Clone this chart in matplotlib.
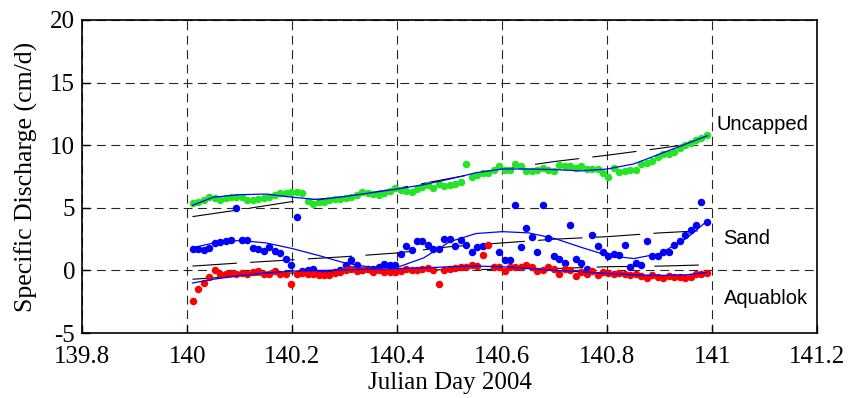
import numpy as np
import matplotlib
matplotlib.use('Agg')
import matplotlib.pyplot as plt

plt.rcParams['axes.unicode_minus'] = False

# 15-minute samples, day 140
day = 140 + np.arange(1, 96) / 96.0

uncapped = [5.35, 5.5, 5.65, 5.9, 5.75, 5.6, 5.8, 5.85, 5.9, 5.9,
            5.6, 5.6, 5.7, 5.75, 5.85, 6.05, 6.15, 6.2, 6.3, 6.25,
            6.15, 5.55, 5.3, 5.5, 5.45, 5.6, 5.7, 5.7, 5.75, 5.85,
            6.0, 6.3, 6.15, 6.1, 6.0, 6.2, 6.35, 6.6, 6.45, 6.35,
            6.3, 6.5, 6.65, 6.8, 6.55, 6.9, 6.75, 6.8, 6.9, 7.1,
            8.5, 7.45, 7.6, 7.8, 7.75, 8.0, 8.35, 8.0, 8.0, 8.5,
            8.3, 7.95, 7.95, 8.05, 8.15, 8.05, 7.95, 8.4, 8.3, 8.3,
            8.2, 8.3, 8.1, 8.1, 8.1, 7.75, 7.5, 8.15, 7.85, 7.95,
            8.05, 8.05, 8.5, 8.6, 8.7, 9.05, 9.3, 9.3, 9.45, 9.8,
            10.05, 10.2, 10.45, 10.6, 10.8]

sand = [1.7, 1.75, 1.65, 1.8, 2.2, 2.25, 2.35, 2.4, 5.0, 2.4,
        2.4, 1.8, 1.7, 1.55, 1.9, 1.55, 1.4, 0.95, 0.45, 4.25,
        -0.05, 0.0, 0.1, -0.3, -0.25, -0.25, -0.1, 0.05, 0.4, 0.8,
        0.4, 0.0, 0.15, 0.15, 0.3, 0.55, 0.4, 0.4, 1.3, 1.95,
        1.6, 2.35, 2.35, 2.0, 1.7, 1.7, 2.55, 2.55, 1.95, 2.4,
        2.0, 1.45, 1.85, 1.95, np.nan, np.nan, 1.45, 0.85, 0.85, 5.25,
        1.9, 3.4, 2.7, 1.45, 5.25, 2.6, 1.15, 0.95, 0.6, 3.6,
        0.95, 0.6, 0.1, 2.85, 1.95, 1.5, 1.15, 1.3, 1.25, 2.05,
        0.25, 0.6, 0.4, 2.35, 1.15, 1.15, 1.5, 1.5, 2.05, 2.35,
        2.85, 3.2, 3.65, 5.45, 3.85]

aquablok = [-2.4, -1.45, -1.0, -0.55, 0.05, -0.3, -0.3, -0.2, -0.25, -0.2,
            -0.3, -0.15, -0.05, -0.3, -0.3, -0.05, -0.3, -0.25, -1.1, -0.25,
            -0.2, -0.3, -0.3, -0.4, -0.35, -0.4, -0.2, -0.1, 0.05, 0.1,
            -0.05, 0.0, 0.1, -0.1, 0.05, -0.1, -0.15, -0.1, -0.05, 0.1,
            0.05, 0.0, 0.15, 0.2, 0.0, -1.1, 0.0, 0.15, 0.2, 0.3,
            0.3, 0.4, 0.35, 1.25, 2.0, 0.3, 0.25, -0.05, 0.3, 0.3,
            0.25, 0.4, 0.25, -0.05, 0.0, 0.25, 0.1, -0.3, 0.1, 0.0,
            -0.45, -0.15, -0.25, -0.05, -0.4, -0.1, -0.2, -0.25, -0.2, -0.3,
            -0.35, -0.3, -0.45, -0.6, -0.4, -0.5, -0.6, -0.45, -0.5, -0.5,
            -0.6, -0.55, -0.3, -0.25, -0.2]

# smoothed fits (blue)
fit_t = [140.01, 140.05, 140.10, 140.15, 140.20, 140.25, 140.30, 140.35,
         140.40, 140.45, 140.50, 140.55, 140.60, 140.65, 140.70, 140.75,
         140.80, 140.85, 140.90, 140.95, 140.99]
fit_uncapped = [5.2, 5.85, 6.05, 6.1, 5.85, 5.65, 5.9, 6.2, 6.5, 6.85, 7.3,
                7.8, 8.1, 8.1, 8.05, 7.95, 8.1, 8.5, 9.3, 10.1, 10.75]
fit_sand = [1.8, 2.2, 2.4, 2.2, 1.75, 1.2, 0.6, 0.25, 0.25, 1.0, 2.3,
            2.95, 3.1, 3.0, 2.55, 1.85, 1.2, 0.95, 1.35, 2.55, 3.95]
fit_aquablok = [-1.0, -0.7, -0.4, -0.2, -0.05, 0.0, 0.05, 0.1, 0.15, 0.2, 0.3,
                0.35, 0.3, 0.15, 0.0, -0.1, -0.25, -0.35, -0.4, -0.35, -0.15]

# trend lines (black, broken)
trend_t = [140.01, 140.10, 140.20, 140.30, 140.40, 140.50, 140.60, 140.70,
           140.80, 140.90, 140.99]
trend_uncapped = [4.3, 4.85, 5.5, 5.9, 6.55, 7.35, 8.1, 8.7, 9.2, 9.75, 10.3]
trend_sand = [0.35, 0.6, 0.85, 1.1, 1.4, 1.9, 2.2, 2.5, 2.7, 3.0, 3.2]
trend_aquablok = [-0.7, -0.45, -0.2, -0.05, 0.05, 0.05, 0.1, 0.15, 0.3, 0.35, 0.45]

fig = plt.figure(figsize=(8.56, 3.98), dpi=100)
ax = fig.add_axes([0.096, 0.163, 0.859, 0.787])

dash = (0, (40, 12))
for tr in [trend_uncapped, trend_sand, trend_aquablok]:
    ax.plot(trend_t, tr, color='black', lw=0.8, linestyle=dash, zorder=2)

ax.plot(day, uncapped, 'o', color='#22e622', ms=5.4, mec='none', zorder=3)
ax.plot(day, sand, 'o', color='#0000ff', ms=5.4, mec='none', zorder=3)
ax.plot(day, aquablok, 'o', color='#ff0000', ms=5.4, mec='none', zorder=3)

for f in [fit_uncapped, fit_sand, fit_aquablok]:
    ax.plot(fit_t, f, color='#0000ff', lw=0.9, zorder=4)

ax.set_xlim(139.8, 141.2)
ax.set_ylim(-5, 20)
ax.set_xticks([139.8, 140, 140.2, 140.4, 140.6, 140.8, 141, 141.2])
ax.set_xticklabels(['139.8', '140', '140.2', '140.4', '140.6', '140.8', '141', '141.2'])
ax.set_yticks([-5, 0, 5, 10, 15, 20])
ax.grid(True, color='black', linestyle=(0, (8, 5)), lw=0.8, alpha=0.85)
ax.tick_params(direction='in', length=6, width=1, labelsize=18, pad=5)
ax.tick_params(axis='x', pad=9)
for lab in ax.get_xticklabels() + ax.get_yticklabels():
    lab.set_family('Liberation Serif')
for s in ax.spines.values():
    s.set_linewidth(1.2)

ax.set_xlabel('Julian Day 2004', family='Liberation Serif', fontsize=18, labelpad=3)
ax.set_ylabel('Specific Discharge (cm/d)', family='Liberation Serif', fontsize=18.5, labelpad=9)

ax.text(141.008, 11.2, 'Uncapped', family='Liberation Sans', fontsize=14.5)
ax.text(141.021, 2.15, 'Sand', family='Liberation Sans', fontsize=14.5)
ax.text(141.021, -2.7, 'Aquablok', family='Liberation Sans', fontsize=14.5)

fig.savefig('out.png', dpi=100)
